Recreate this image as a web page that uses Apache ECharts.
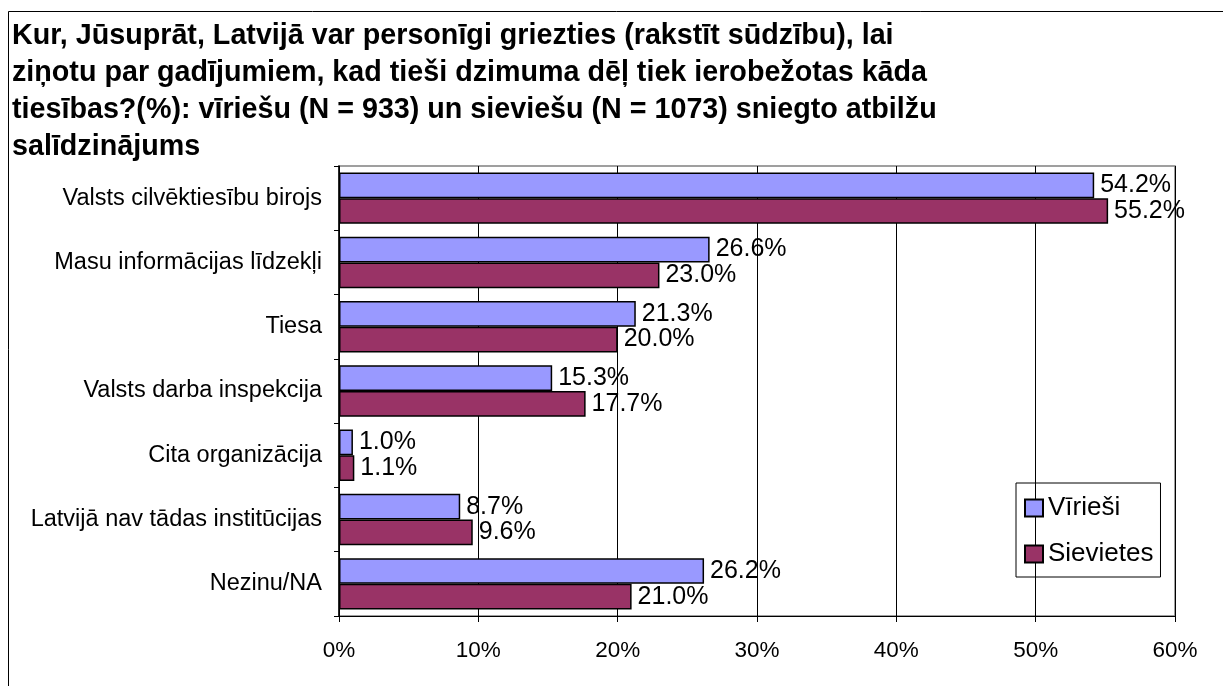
<!DOCTYPE html>
<html>
<head>
<meta charset="utf-8">
<script src="https://cdn.jsdelivr.net/npm/echarts@6/dist/echarts.min.js"></script>
<style>
  html, body { margin: 0; padding: 0; background: #fff; }
  #chart { width: 1223px; height: 686px; }
</style>
</head>
<body>
<div id="chart"></div>
<script>
const categories = [
    'Valsts cilvēktiesību birojs',
    'Masu informācijas līdzekļi',
    'Tiesa',
    'Valsts darba inspekcija',
    'Cita organizācija',
    'Latvijā nav tādas institūcijas',
    'Nezinu/NA'
];
const men = [54.2, 26.6, 21.3, 15.3, 1.0, 8.7, 26.2];
const women = [55.2, 23.0, 20.0, 17.7, 1.1, 9.6, 21.0];
const seriesNames = ['Vīrieši', 'Sievietes'];

const titleText = 'Kur, Jūsuprāt, Latvijā var personīgi griezties (rakstīt sūdzību), lai\n' +
    'ziņotu par gadījumiem, kad tieši dzimuma dēļ tiek ierobežotas kāda\n' +
    'tiesības?(%): vīriešu (N = 933) un sieviešu (N = 1073) sniegto atbilžu\n' +
    'salīdzinājums';

const font = 'Arial, "Liberation Sans", sans-serif';

const barLabel = {
    show: true,
    position: 'right',
    distance: 6,
    color: '#000',
    fontSize: 25,
    fontFamily: font,
    formatter: p => p.value.toFixed(1) + '%'
};

let option = {
    animation: false,
    backgroundColor: '#fff',
    textStyle: { fontFamily: font },
    title: {
        text: titleText,
        left: 7,
        top: 13,
        textStyle: {
            fontSize: 28.7,
            fontWeight: 'bold',
            color: '#000',
            lineHeight: 37,
            fontFamily: font
        }
    },
    graphic: [{
        type: 'rect',
        shape: { x: 8.5, y: 11.5, width: 1400, height: 1000 },
        style: { fill: null, stroke: '#000', lineWidth: 1 },
        silent: true
    }],
    legend: {
        data: seriesNames,
        orient: 'vertical',
        left: 1016,
        top: 483,
        padding: [12, 7, 10, 8],
        itemGap: 20,
        itemWidth: 18,
        itemHeight: 17,
        borderColor: '#000',
        borderWidth: 1,
        icon: 'rect',
        textStyle: { fontSize: 26, color: '#000', fontFamily: font }
    },
    grid: {
        left: 339,
        right: 48,
        top: 166,
        bottom: 70,
        show: true,
        borderColor: '#808080',
        borderWidth: 1.5,
        containLabel: false
    },
    xAxis: {
        type: 'value',
        min: 0,
        max: 60,
        interval: 10,
        axisLine: { show: true, lineStyle: { color: '#000', width: 1 } },
        axisTick: { show: true, length: 6, lineStyle: { color: '#000' } },
        axisLabel: {
            formatter: '{value}%',
            color: '#000',
            fontSize: 22.5,
            margin: 23,
            fontFamily: font
        },
        splitLine: { show: true, lineStyle: { color: '#000', width: 1 } }
    },
    yAxis: {
        type: 'category',
        data: categories,
        inverse: true,
        axisLine: { show: true, lineStyle: { color: '#000', width: 1.5 } },
        axisTick: { show: true, length: 5, lineStyle: { color: '#000' } },
        axisLabel: {
            color: '#000',
            fontSize: 23.5,
            margin: 17,
            fontFamily: font
        },
        splitLine: { show: false }
    },
    series: [{
        name: seriesNames[0],
        type: 'bar',
        data: men,
        barGap: '0%',
        barCategoryGap: '20%',
        itemStyle: { color: '#9999FF', borderColor: '#000', borderWidth: 1.5 },
        label: barLabel
    }, {
        name: seriesNames[1],
        type: 'bar',
        data: women,
        barGap: '0%',
        barCategoryGap: '20%',
        itemStyle: { color: '#993366', borderColor: '#000', borderWidth: 1.5 },
        label: barLabel
    }]
};

let myChart = echarts.init(document.getElementById('chart'));
myChart.setOption(option);
</script>
</body>
</html>
